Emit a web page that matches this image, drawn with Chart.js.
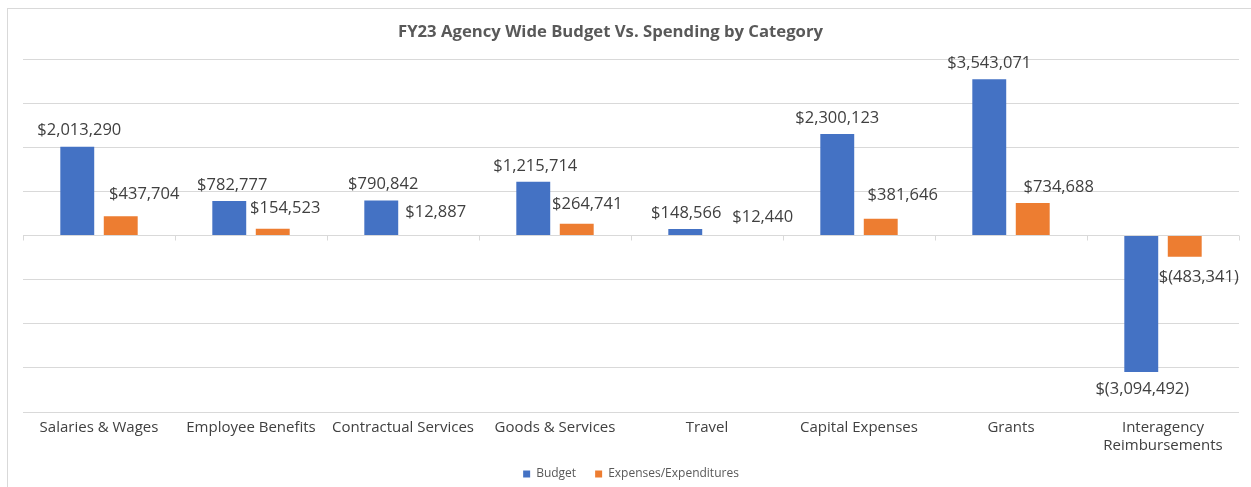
<!DOCTYPE html>
<html>
<head>
<meta charset="utf-8">
<script src="https://cdn.jsdelivr.net/npm/chart.js@4.4.0/dist/chart.umd.min.js"></script>
<style>
  html, body { margin: 0; padding: 0; background: #fff; }
  #wrap { width: 1251px; height: 487px; position: relative; }
</style>
</head>
<body>
<div id="wrap"><canvas id="budgetChart" width="1251" height="487"></canvas></div>
<script>
const categories = [
  "Salaries & Wages",
  "Employee Benefits",
  "Contractual Services",
  "Goods & Services",
  "Travel",
  "Capital Expenses",
  "Grants",
  ["Interagency", "Reimbursements"],
];
const budget = [2013290, 782777, 790842, 1215714, 148566, 2300123, 3543071, -3094492];
const expenses = [437704, 154523, 12887, 264741, 12440, 381646, 734688, -483341];
const yTicks = [-4000000, 4000000, 1000000]; // min, max, step

const FONT = "'Open Sans', sans-serif";

// $1,234 / $(1,234) like the Excel accounting format
function money(v) {
  const s = Math.abs(v).toLocaleString("en-US");
  return v < 0 ? "$(" + s + ")" : "$" + s;
}

// label nudges, the orange ones are pushed aside like Excel does
const labelNudge = {
  0: { dx: [2, 3, 2, 2, 1, 0, 0, 1], dy: [-16, -16, -16, -16, -16, -16, -16, 17] },
  1: { dx: [23.5, 12.5, 11, 10.5, 34, 22, 26, 14], dy: [-22, -20, -23, -20, -18, -23, -16, 20] },
};

const frameAndTitle = {
  id: "frameAndTitle",
  afterLayout(chart) {
    // pull the legend up a bit, it sits closer to the axis labels in the original
    chart.legend.top -= 5;
    chart.legend.bottom -= 5;
  },
  beforeDraw(chart) {
    const c = chart.ctx;
    c.save();
    c.fillStyle = "#fff";
    c.fillRect(0, 0, chart.width, chart.height);
    c.strokeStyle = "#d9d9d9";
    c.lineWidth = 1;
    c.strokeRect(7.5, 8.5, chart.width + 20, chart.height + 20);
    c.fillStyle = "#595959";
    c.font = "bold 16.7px " + FONT;
    c.textAlign = "center";
    c.textBaseline = "middle";
    c.fillText("FY23 Agency Wide Budget Vs. Spending by Category", (chart.width - 30) / 2, 32);
    c.restore();
  },
  afterDatasetsDraw(chart) {
    const c = chart.ctx;
    const x = chart.scales.x;
    const y0 = chart.scales.y.getPixelForValue(0);
    c.save();
    // axis line ticks at zero
    c.strokeStyle = "#d9d9d9";
    c.lineWidth = 1;
    const step = (x.right - x.left) / categories.length;
    c.beginPath();
    for (let i = 0; i <= categories.length; i++) {
      const px = Math.round(x.left + step * i) + 0.5;
      c.moveTo(px, y0);
      c.lineTo(px, y0 + 5);
    }
    c.stroke();
    // data labels
    c.fillStyle = "#404040";
    c.font = "16.5px " + FONT;
    c.textAlign = "center";
    c.textBaseline = "middle";
    chart.data.datasets.forEach((ds, di) => {
      const meta = chart.getDatasetMeta(di);
      meta.data.forEach((bar, i) => {
        const n = labelNudge[di];
        c.fillText(money(ds.data[i]), bar.x + n.dx[i], bar.y + n.dy[i]);
      });
    });
    c.restore();
  },
};

new Chart(document.getElementById("budgetChart"), {
  type: "bar",
  data: {
    labels: categories,
    datasets: [
      { label: "Budget", data: budget, backgroundColor: "#4472C4" },
      { label: "Expenses/Expenditures", data: expenses, backgroundColor: "#ED7D31" },
    ],
  },
  options: {
    responsive: false,
    animation: false,
    layout: { padding: { top: 59, left: 23, right: 12, bottom: -8 } },
    datasets: { bar: { categoryPercentage: 0.572, barPercentage: 0.78 } },
    scales: {
      x: {
        grid: { display: false, drawTicks: false },
        border: { display: false },
        ticks: { color: "#404040", font: { family: FONT, size: 15, lineHeight: 1.2 }, padding: 7, maxRotation: 0, autoSkip: false },
        afterFit: (axis) => { axis.height -= 8; },
      },
      y: {
        min: yTicks[0],
        max: yTicks[1],
        ticks: { display: false, stepSize: yTicks[2] },
        grid: { color: "#d9d9d9", drawTicks: false },
        border: { display: false },
      },
    },
    plugins: {
      title: { display: false },
      tooltip: { enabled: false },
      legend: {
        position: "bottom",
        labels: { boxWidth: 7, boxHeight: 7, padding: 19, color: "#595959", font: { family: FONT, size: 12 } },
      },
    },
  },
  plugins: [frameAndTitle],
});
</script>
</body>
</html>
